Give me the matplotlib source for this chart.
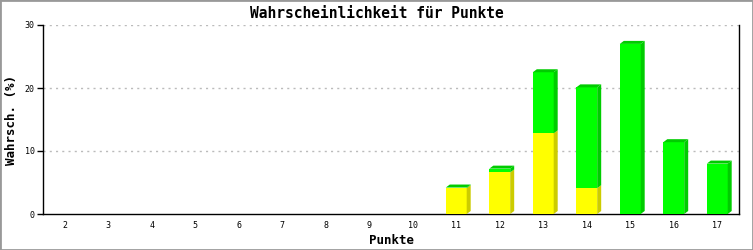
import matplotlib
matplotlib.use("Agg")
import matplotlib.pyplot as plt
from matplotlib.patches import Polygon, Rectangle

categories = ["2", "3", "4", "5", "6", "7", "8", "9", "10", "11", "12", "13", "14", "15", "16", "17"]
yellow_vals = [0, 0, 0, 0, 0, 0, 0, 0, 0, 4.1, 6.6, 12.8, 4.1, 0, 0, 0]
green_vals = [0, 0, 0, 0, 0, 0, 0, 0, 0, 0.1, 0.6, 9.7, 16.0, 27.0, 11.4, 8.0]
yticks = [0, 10, 20, 30]

W, H, DPI = 753, 250, 100
fig = plt.figure(figsize=(W / DPI, H / DPI), dpi=DPI)
fig.patch.set_facecolor("white")

ax_l, ax_r, ax_b, ax_t = 43, 739, 214, 25
ax = fig.add_axes([ax_l / W, 1 - ax_b / H, (ax_r - ax_l) / W, (ax_b - ax_t) / H])
n = len(categories)
ax.set_xlim(-0.5, n - 0.5)
ax.set_ylim(0, 30)

mono = "DejaVu Sans Mono"
for y in yticks[1:]:
    ax.axhline(y, color="#bbbbbb", lw=1.0, linestyle=(0, (1.5, 3)), zorder=0)

ax.spines["top"].set_visible(False)
for s in ["left", "bottom", "right"]:
    ax.spines[s].set_color("black")
    ax.spines[s].set_linewidth(1.0)

ax.set_yticks(yticks)
ax.set_yticklabels([str(v) for v in yticks], fontsize=6, family=mono)
ax.tick_params(axis="y", direction="out", length=4, width=1, pad=2)
ax.set_xticks(range(n))
ax.set_xticklabels(categories, fontsize=6, family=mono)
ax.tick_params(axis="x", length=0, pad=5)

fig.text((ax_l + ax_r) / 2 / W, 1 - 240 / H, "Punkte", ha="center", va="center",
         fontsize=9, fontweight="bold", family=mono)
fig.text(12 / W, 1 - 120 / H, "Wahrsch. (%)", ha="center", va="center", rotation=90,
         fontsize=9, fontweight="bold", family=mono)
fig.text(0.5, 1 - 13 / H, "Wahrscheinlichkeit für Punkte", ha="center", va="center",
         fontsize=10.5, fontweight="bold", family=mono)

bw = 0.48
dx, dy = 4, 3  # pixel depth offsets
Y_FRONT, Y_SIDE = "#ffff00", "#cccc00"
G_FRONT, G_SIDE = "#00ff00", "#00cc00"

T = ax.transData
for i in range(n):
    segs = []
    base = 0
    if yellow_vals[i] > 0:
        segs.append((base, base + yellow_vals[i], Y_FRONT, Y_SIDE))
        base += yellow_vals[i]
    if green_vals[i] > 0:
        segs.append((base, base + green_vals[i], G_FRONT, G_SIDE))
        base += green_vals[i]
    if not segs:
        continue
    for k, (y0, y1, cf, cs) in enumerate(segs):
        ax.bar(i, y1 - y0, bottom=y0, width=bw, color=cf, edgecolor="none", zorder=3)
        xr = i + bw / 2
        p0 = T.transform((xr, y0))
        p1 = T.transform((xr, y1))
        side = [(p0[0], p0[1]), (p0[0] + dx, p0[1] + dy), (p1[0] + dx, p1[1] + dy), (p1[0], p1[1])]
        fig.patches.append(Polygon(side, closed=True, facecolor=cs, edgecolor="none",
                                   transform=None, figure=fig, zorder=4))
        if k == len(segs) - 1:
            pl = T.transform((i - bw / 2, y1))
            top = [(pl[0], pl[1]), (p1[0], p1[1]), (p1[0] + dx, p1[1] + dy), (pl[0] + dx, pl[1] + dy)]
            fig.patches.append(Polygon(top, closed=True, facecolor=cs, edgecolor="none",
                                       transform=None, figure=fig, zorder=4))

fig.patches.append(Rectangle((0, 0), 1, 1, transform=fig.transFigure, fill=False,
                             edgecolor="#999999", lw=2.0, figure=fig))

fig.savefig("out.png", dpi=DPI)
